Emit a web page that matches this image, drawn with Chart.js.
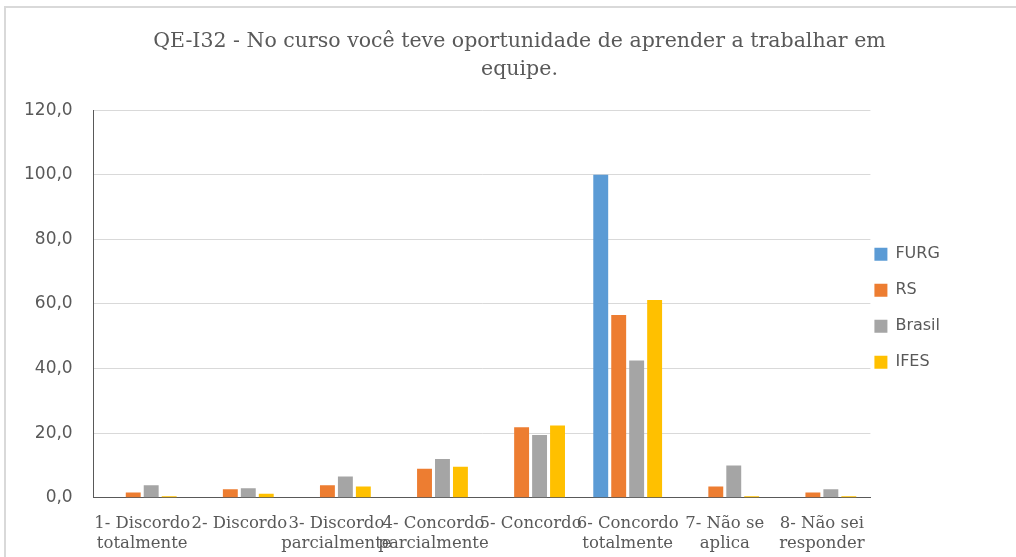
<!DOCTYPE html>
<html>
<head>
<meta charset="utf-8">
<script src="https://cdn.jsdelivr.net/npm/chart.js@4"></script>
<style>
  html, body { margin: 0; padding: 0; background: #fff; overflow: hidden; }
  #wrap { position: relative; width: 1016px; height: 557px; }
  .edge { position: absolute; background: #d9d9d9; }
  canvas { position: absolute; left: 0; top: 0; }
</style>
</head>
<body>
<div id="wrap">
  <div class="edge" style="left:4px; top:6px; width:1012px; height:2px;"></div>
  <div class="edge" style="left:4px; top:6px; width:2px; height:551px;"></div>
  <canvas id="chart" width="1016" height="557"></canvas>
</div>
<script>
const categories = [
    ['1- Discordo', 'totalmente'],
    '2- Discordo',
    ['3- Discordo', 'parcialmente'],
    ['4- Concordo', 'parcialmente'],
    '5- Concordo',
    ['6- Concordo', 'totalmente'],
    ['7- Não se', 'aplica'],
    ['8- Não sei', 'responder']
];
const seriesNames = ['FURG', 'RS', 'Brasil', 'IFES'];
const furg = [0, 0, 0, 0, 0, 100, 0, 0];
const rs = [1.6, 2.6, 3.9, 9.0, 21.8, 56.6, 3.5, 1.6];
const brasil = [3.9, 2.9, 6.6, 12.0, 19.4, 42.5, 10.0, 2.6];
const ifes = [0.5, 1.2, 3.5, 9.6, 22.4, 61.2, 0.5, 0.5];

const grey = '#595959';
const colors = ['#5b9bd5', '#ed7d31', '#a5a5a5', '#ffc000'];

// the title is centred over the whole frame, not only the plot + axis
const shiftTitle = {
    id: 'shiftTitle',
    afterLayout(chart) {
        if (chart.titleBlock) {
            chart.titleBlock.left += 43;
            chart.titleBlock.right += 43;
        }
    }
};

const ctx = document.getElementById('chart').getContext('2d');
new Chart(ctx, {
    type: 'bar',
    data: {
        labels: categories,
        datasets: [furg, rs, brasil, ifes].map((d, i) => ({
            label: seriesNames[i],
            data: d,
            backgroundColor: colors[i]
        }))
    },
    options: {
        responsive: false,
        animation: false,
        barPercentage: 0.83,
        categoryPercentage: 0.74,
        layout: { padding: { left: 3, right: 66, top: 22, bottom: -13 } },
        plugins: {
            title: {
                display: true,
                text: ['QE-I32 - No curso você teve oportunidade de aprender a trabalhar em', 'equipe.'],
                color: grey,
                font: { family: 'DejaVu Serif', size: 20.5, weight: 'normal', lineHeight: 1.37 },
                padding: { top: 6, bottom: 26 }
            },
            legend: {
                position: 'right',
                title: { display: true, text: '', padding: 13 },
                labels: {
                    color: grey,
                    font: { family: 'DejaVu Sans', size: 16, lineHeight: 2 },
                    boxWidth: 13,
                    boxHeight: 13,
                    padding: 4,
                    // array text so the row height follows the font line height
                    generateLabels: chart => Chart.defaults.plugins.legend.labels.generateLabels(chart)
                        .map(item => Object.assign(item, { text: [item.text] }))
                }
            },
            tooltip: { enabled: false }
        },
        scales: {
            x: {
                grid: { display: false, drawTicks: false },
                border: { color: grey, width: 1 },
                ticks: {
                    color: grey,
                    font: { family: 'DejaVu Serif', size: 16.5, lineHeight: 1.22 },
                    padding: 16,
                    maxRotation: 0,
                    autoSkip: false
                }
            },
            y: {
                min: 0,
                max: 120,
                grid: { color: '#d9d9d9', drawTicks: false },
                border: { color: grey, width: 1 },
                ticks: {
                    stepSize: 20,
                    color: grey,
                    padding: 21,
                    font: { family: 'DejaVu Sans', size: 17 },
                    callback: v => v.toFixed(1).replace('.', ',')
                }
            }
        }
    },
    plugins: [shiftTitle]
});
</script>
</body>
</html>
